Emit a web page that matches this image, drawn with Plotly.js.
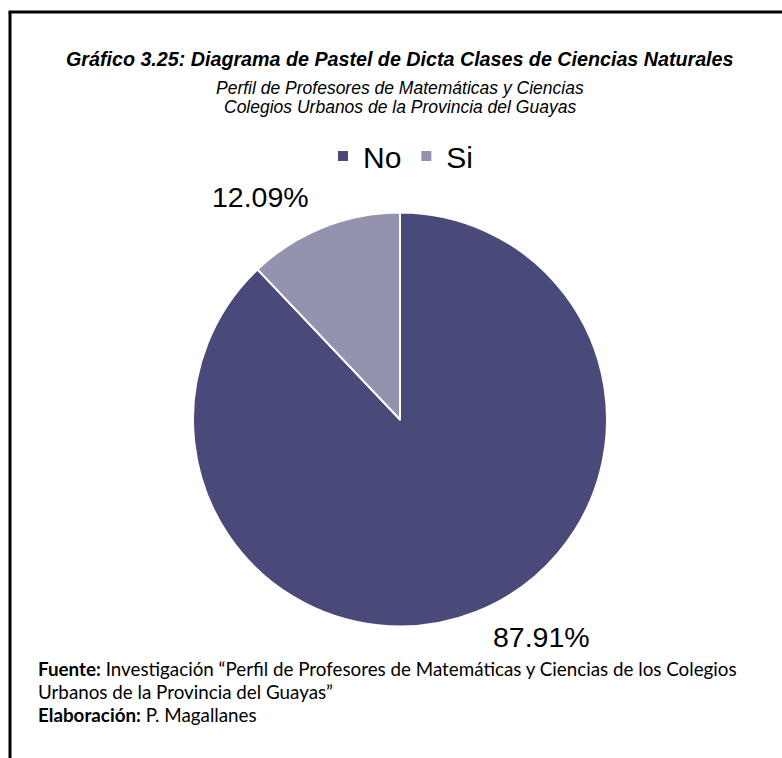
<!DOCTYPE html>
<html>
<head>
<meta charset="utf-8">
<script src="https://cdn.plot.ly/plotly-3.0.1.min.js"></script>
<style>
html,body{margin:0;padding:0;background:#fff;}
#chart{width:782px;height:758px;}
</style>
</head>
<body>
<div id="chart"></div>
<script>
// ---- data ----
const categories = ['No', 'Si'];
const values = [87.91, 12.09];
const sliceColors = ['#4a4a7a', '#9393af'];

const titleText = 'Gráfico 3.25: Diagrama de Pastel de Dicta Clases de Ciencias Naturales';
const subtitleLines = ['Perfil de Profesores de Matemáticas y Ciencias', 'Colegios Urbanos de la Provincia del Guayas'];
const footerLines = [
  '<b>Fuente:</b> Investigación “Perfil de Profesores de Matemáticas y Ciencias de los Colegios',
  'Urbanos de la Provincia del Guayas”',
  '<b>Elaboración:</b> P. Magallanes'
];

// ---- layout helpers ----
const W = 782, H = 758;
const px = x => x / W;
const py = y => 1 - y / H;

const total = values.reduce((a, b) => a + b, 0);
const pctText = values.map(v => (v / total * 100).toFixed(2) + '%');
const labelPos = [[541, 637], [260, 197]];

const sans = '"Liberation Sans", Arial, sans-serif';

const annotations = [];
annotations.push({
  text: '<b><i>' + titleText + '</i></b>', x: px(400), y: py(59), xref: 'paper', yref: 'paper',
  xanchor: 'center', yanchor: 'middle', showarrow: false,
  font: {family: sans, size: 19.7, color: '#000'}
});
subtitleLines.forEach((t, i) => annotations.push({
  text: '<i>' + t + '</i>', x: px(400), y: py(88 + i * 19), xref: 'paper', yref: 'paper',
  xanchor: 'center', yanchor: 'middle', showarrow: false,
  font: {family: sans, size: 17.5, color: '#000'}
}));
footerLines.forEach((t, i) => annotations.push({
  text: t, x: px(36), y: py(668 + i * 23), xref: 'paper', yref: 'paper',
  xanchor: 'left', yanchor: 'middle', showarrow: false, align: 'left',
  font: {family: 'Lato, "Open Sans", sans-serif', size: 18.8, color: '#000'}
}));
categories.forEach((c, i) => annotations.push({
  text: pctText[i], x: px(labelPos[i][0]), y: py(labelPos[i][1]), xref: 'paper', yref: 'paper',
  xanchor: 'center', yanchor: 'middle', showarrow: false,
  font: {family: sans, size: 28.5, color: '#000'}
}));

const data = [{
  type: 'pie',
  labels: categories,
  values: values,
  sort: false,
  direction: 'clockwise',
  rotation: 0,
  textinfo: 'none',
  hoverinfo: 'label+percent',
  marker: {colors: sliceColors, line: {color: '#ffffff', width: 2}},
  domain: {x: [px(193), px(607)], y: [py(627), py(212)]}
}];

const layout = {
  width: W, height: H,
  margin: {l: 0, r: 0, t: 0, b: 0},
  paper_bgcolor: '#ffffff',
  showlegend: true,
  legend: {
    orientation: 'h', x: 0.5 + 10 / W, xanchor: 'center', y: py(156), yanchor: 'middle',
    font: {family: sans, size: 30, color: '#000'},
    itemclick: false
  },
  annotations: annotations,
  shapes: [
    {type: 'line', xref: 'paper', yref: 'paper', x0: px(10), x1: px(10), y0: 0, y1: py(12),
     line: {color: '#000', width: 3}},
    {type: 'line', xref: 'paper', yref: 'paper', x0: px(8.5), x1: 1, y0: py(12), y1: py(12),
     line: {color: '#000', width: 3}}
  ]
};

Plotly.newPlot('chart', data, layout, {displayModeBar: false, staticPlot: true});
</script>
</body>
</html>
